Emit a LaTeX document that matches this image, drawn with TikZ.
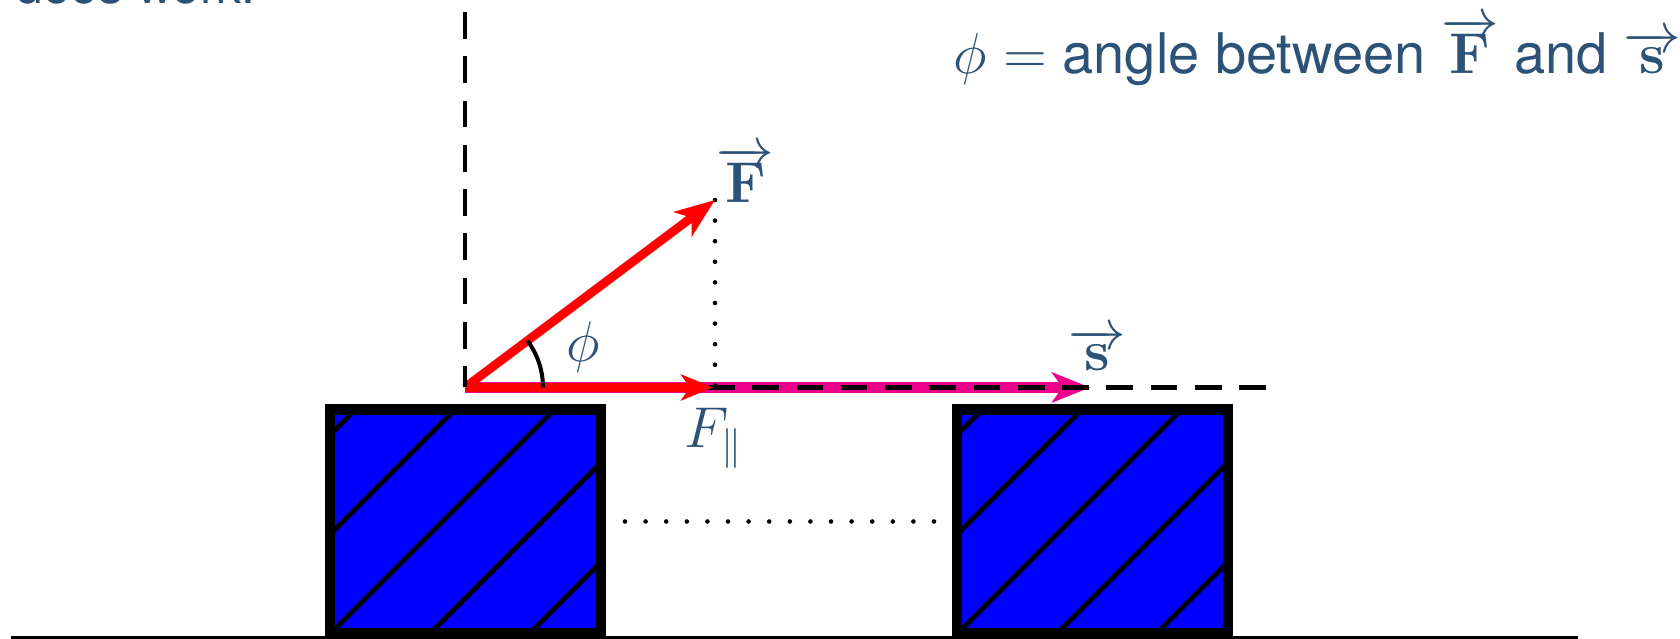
\documentclass[tikz,border=0pt]{standalone}
\usepackage[no-math]{fontspec}
\setmainfont{TeX Gyre Heros}
\usetikzlibrary{arrows.meta}
\definecolor{txtblue}{RGB}{44,82,120}
\definecolor{smag}{RGB}{236,0,140}
\begin{document}
\begin{tikzpicture}[x=0.25pt,y=0.25pt,
  lbl/.style={text=txtblue, inner sep=0pt, font=\fontsize{13.6}{16}\selectfont},
  toptxt/.style={text=txtblue, inner sep=0pt, font=\fontsize{14}{17}\selectfont},
  cuttxt/.style={text=txtblue, inner sep=0pt, font=\fontsize{12.4}{15}\selectfont},
  dashln/.style={line width=1.1pt, dash pattern=on 6.67pt off 4.4pt},
  dotln/.style={line width=1.15pt, line cap=round, dash pattern=on 0pt off 5.15pt},
  hatchln/.style={line width=1.2pt, draw=black},
  blockbox/.style={draw=black, fill=blue, line width=2.6pt, minimum width=67.75pt,
    minimum height=56pt, inner sep=0pt, outer sep=0pt,
    path picture={\draw[hatchln] \foreach \d in {-222,-122.5,-23,76.5,176}
      {([shift={(\d-200,-200)}]path picture bounding box.center) --
       ([shift={(\d+200,200)}]path picture bounding box.center)};}},
  ground/.style={line width=0.8pt, draw=black},
  vecred/.style={draw=red, line width=2.2pt},
  vecmag/.style={draw=smag, line width=2.6pt},
  anglearc/.style={line width=1pt, draw=black}
]
\clip (0,0) rectangle (1680,639);
% ground
\coordinate (G1) at (11,1.7);
\coordinate (G2) at (1578,1.7);
\draw[ground] (G1) -- (G2);
% blocks
\node[blockbox] (b1) at (465.5,117.5) {};
\node[blockbox] (b2) at (1092.5,117.5) {};
\draw[dotln] ([xshift=6pt]b1.east) -- ([xshift=-5.5pt]b2.west);
% key points
\coordinate (O) at (465,251.5);
\coordinate (Ftip) at (715,439);
\coordinate (Foot) at (715,251.5);
\coordinate (Ptip) at (713,251.5);
\coordinate (Stip) at (1090,251.5);
\coordinate (Dend) at (1266,251.5);
\coordinate (Vtop) at (465,627);
% displacement
\draw[vecmag, -{Stealth[length=9.5pt,width=7.5pt,inset=2.6pt]}] (O) -- (Stip);
\draw[dashln] (Dend) -- (O);
\draw[dotln] (Ftip) -- (Foot);
% forces
\draw[vecred, -{Stealth[length=8pt,width=6.5pt,inset=2.2pt]}] (O) -- (Ptip);
\draw[vecred, -{Stealth[length=10pt,width=7.5pt,inset=2.7pt]}] (O) -- (Ftip);
\draw[dashln] (Vtop) -- (O);
\draw[anglearc] ([shift={(0:78)}]O) arc[start angle=0, end angle=36.87, radius=78];
% labels
\node[lbl, anchor=base west] (Flbl) at (716,436) {$\overrightarrow{\mathbf{F}}$};
\node[lbl, anchor=base west] (slbl) at (1068,268) {$\overrightarrow{\mathbf{s}}$};
\node[lbl, anchor=base west] (Fplbl) at (684,191) {$F_{\parallel}$};
\node[lbl, anchor=base west] (philbl) at (566,277.5) {$\phi$};
\node[toptxt, anchor=base west] (def) at (953,565) {$\phi =$ angle between $\overrightarrow{\mathbf{F}}$ and $\overrightarrow{\mathbf{s}}$};
\node[cuttxt, anchor=base west] (cut) at (15,635.7) {does work.};
\end{tikzpicture}
\end{document}
